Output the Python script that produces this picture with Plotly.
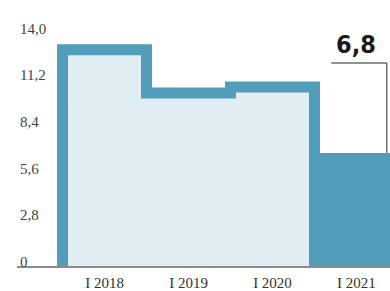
import plotly.graph_objects as go

categories = ["I 2018", "I 2019", "I 2020", "I 2021"]
values = [13.0, 10.4, 10.75, 6.8]
tick_vals = [0, 2.8, 5.6, 8.4, 11.2, 14.0]
tick_text = ["0", "2,8", "5,6", "8,4", "11,2", "14,0"]
highlight_label = "6,8"

TEAL = "#519DBA"
LIGHT = "#E0EEF3"

idx = list(range(len(categories)))
colors = [LIGHT] * (len(values) - 1) + [TEAL]

fig = go.Figure()
fig.add_trace(go.Bar(x=idx, y=values, width=1, marker=dict(color=colors, line=dict(width=0)),
                     hoverinfo="skip"))

# step outline around the first three bars, built from the data
sx, sy = [idx[0] - 0.5], [0]
for i in idx[:-1]:
    sx += [i - 0.5, i + 0.5]
    sy += [values[i], values[i]]
sx.append(idx[-2] + 0.5)
sy.append(0)
fig.add_trace(go.Scatter(x=sx, y=sy, mode="lines", line=dict(color=TEAL, width=11),
                         hoverinfo="skip"))

last = idx[-1]
top = values[-1]
bracket_y = top + 5.4
fig.add_shape(type="line", x0=last - 0.3, x1=last + 0.36, y0=bracket_y, y1=bracket_y,
              line=dict(color="#6b6b6b", width=1.5))
fig.add_shape(type="line", x0=last + 0.36, x1=last + 0.36, y0=bracket_y, y1=top,
              line=dict(color="#6b6b6b", width=1.5))
fig.add_annotation(x=last, y=bracket_y + 0.1, text="<b>" + highlight_label + "</b>",
                   showarrow=False, yanchor="bottom", xanchor="center",
                   font=dict(family="DejaVu Sans Condensed", size=25, color="#1a1a1a"))

fig.update_layout(
    width=390, height=291,
    margin=dict(l=17, r=0, t=33, b=17),
    paper_bgcolor="white", plot_bgcolor="white",
    showlegend=False, bargap=0,
    font=dict(family="Liberation Serif", size=15, color="#333333"),
)
fig.update_xaxes(range=[-1.042, 3.399], tickvals=idx, ticktext=categories,
                 showgrid=False, zeroline=False, showline=True, linecolor="#8c8c8c",
                 linewidth=2, ticks="", tickfont=dict(size=15), ticklabelstandoff=2)
fig.update_yaxes(range=[0, 14], tickvals=tick_vals, ticktext=tick_text,
                 showgrid=False, zeroline=False, showline=False, ticks="",
                 ticklabelposition="inside top", ticklabeloverflow="allow",
                 ticklabelshift=6, tickfont=dict(size=15))

fig.write_html("out.html", config={"displayModeBar": False},
               post_script="document.body.style.margin='0';")
